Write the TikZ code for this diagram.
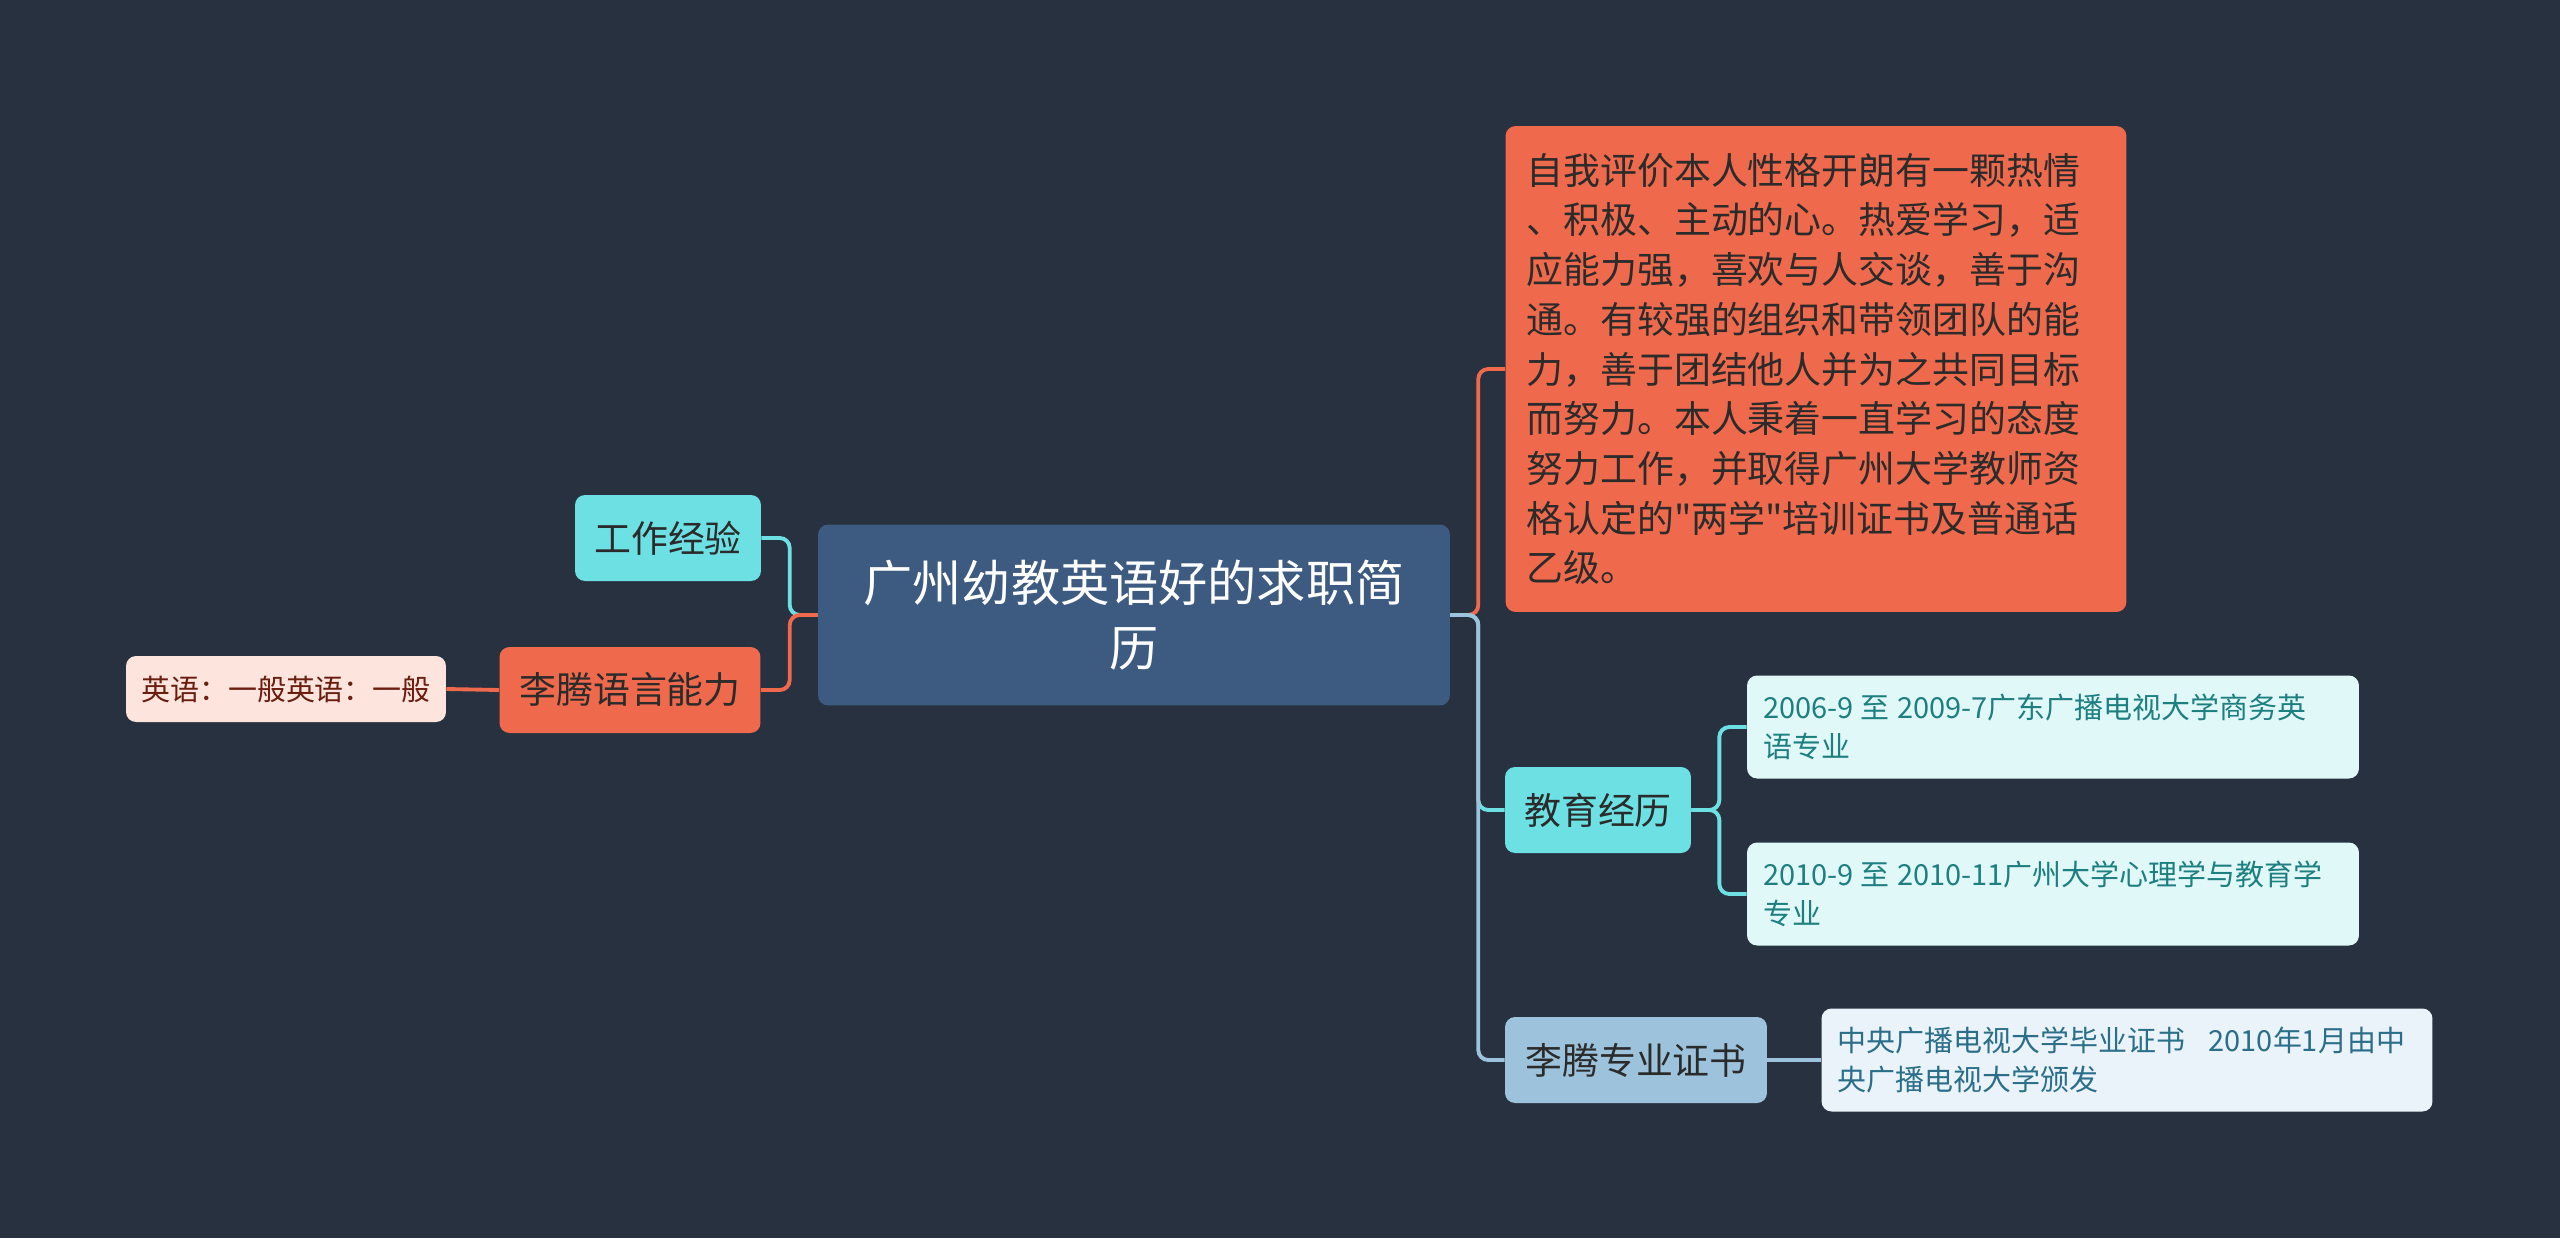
\documentclass[tikz,border=0pt]{standalone}
\usepackage{fontspec}
\newfontfamily\cjk{Noto Sans CJK SC}
\definecolor{bgc}{HTML}{283140}
\definecolor{rootc}{HTML}{3D5A80}
\definecolor{orangec}{HTML}{EF6A4C}
\definecolor{cyanc}{HTML}{6DE0E3}
\definecolor{bluec}{HTML}{9CC3DB}
\definecolor{educ}{HTML}{E1F8F8}
\definecolor{certfill}{HTML}{EAF3F9}
\definecolor{engfill}{HTML}{FDE4DD}
\definecolor{tealtext}{HTML}{1E7F80}
\definecolor{certtext}{HTML}{2A6E8A}
\definecolor{darktext}{HTML}{2B2B2B}
\definecolor{redtext}{HTML}{6B1E10}
\begin{document}
\begin{tikzpicture}[x=0.02cm,y=-0.02cm,
    every node/.style={rounded corners=0.2cm,inner sep=0pt},
    rootbox/.style={fill=rootc,text=white,align=center,minimum width=12.64cm,minimum height=3.62cm,
        font=\cjk\fontsize{28pt}{37pt}\selectfont},
    mainbox/.style={text=darktext,minimum height=1.72cm,
        font=\cjk\fontsize{21pt}{28pt}\selectfont},
    bigbox/.style={fill=orangec,text=darktext,align=left,text width=11.58cm,minimum height=9.72cm,
        inner xsep=0.42cm,font=\cjk\fontsize{21pt}{28.3pt}\selectfont},
    subbox/.style={align=left,text width=11.6cm,minimum height=2.06cm,inner xsep=0.32cm,
        font=\cjk\fontsize{16.5pt}{22pt}\selectfont},
    lnk/.style={line width=2.2pt,rounded corners=0.2cm}]
    \fill[bgc](0,0)rectangle(2560,1238);
    \useasboundingbox(0,0)rectangle(2560,1238);
    % root and right side
    \node[rootbox](root)at(1134,615){广州幼教英语好的求职简\\历};
    \node[bigbox](self)at(1816,369){自我评价本人性格开朗有一颗热情\\
        、积极、主动的心。热爱学习，适\\
        应能力强，喜欢与人交谈，善于沟\\
        通。有较强的组织和带领团队的能\\
        力，善于团结他人并为之共同目标\\
        而努力。本人秉着一直学习的态度\\
        努力工作，并取得广州大学教师资\\
        格认定的"两学"培训证书及普通话\\
        乙级。};
    \node[mainbox,fill=cyanc,minimum width=3.72cm](edu)at(1598,810){教育经历};
    \node[subbox,fill=educ,text=tealtext](edua)at(2053,727){2006-9\hspace{0.25em}至\hspace{0.25em}2009-7广东广播电视大学商务英\\语专业};
    \node[subbox,fill=educ,text=tealtext](edub)at(2053,894){2010-9\hspace{0.25em}至\hspace{0.25em}2010-11广州大学心理学与教育学\\专业};
    \node[mainbox,fill=bluec,minimum width=5.24cm](cert)at(1636,1060){李腾专业证书};
    \node[subbox,fill=certfill,text=certtext,text width=11.58cm](certa)at(2127,1060){中央广播电视大学毕业证书\hspace{0.8em}2010年1月由中\\央广播电视大学颁发};
    % left side
    \node[mainbox,fill=cyanc,minimum width=3.72cm](work)at(668,538){工作经验};
    \node[mainbox,fill=orangec,minimum width=5.22cm](lang)at(630,690){李腾语言能力};
    \node[fill=engfill,text=redtext,minimum width=6.4cm,minimum height=1.32cm,
        font=\cjk\fontsize{16.5pt}{22pt}\selectfont](eng)at(286,689){英语：一般英语：一般};
    % links
    \draw[lnk,orangec](root.east)--++(28,0)|-(self.west);
    \draw[lnk,cyanc](root.east)--++(28,0)|-(edu.west);
    \draw[lnk,bluec](root.east)--++(28,0)|-(cert.west);
    \draw[lnk,cyanc](edu.east)--++(28,0)|-(edua.west);
    \draw[lnk,cyanc](edu.east)--++(28,0)|-(edub.west);
    \draw[lnk,bluec](cert.east)--(certa.west);
    \draw[lnk,cyanc](root.west)--++(-28,0)|-(work.east);
    \draw[lnk,orangec](root.west)--++(-28,0)|-(lang.east);
    \draw[lnk,orangec](lang.west)--(eng.east);
\end{tikzpicture}
\end{document}
